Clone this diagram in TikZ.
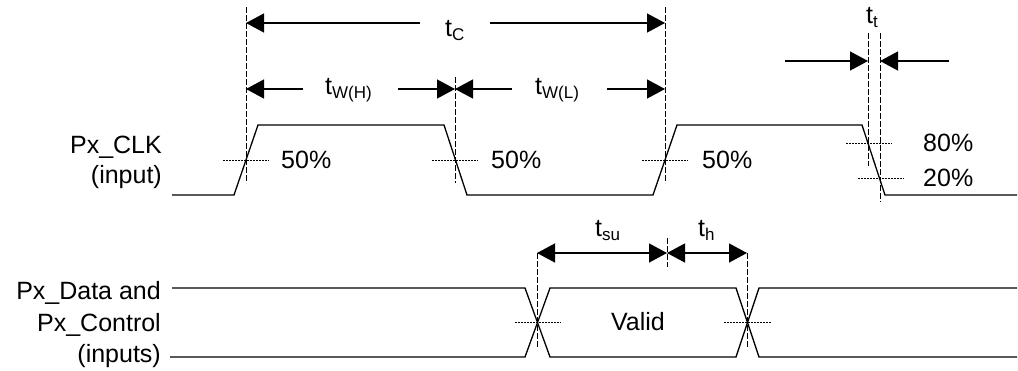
\documentclass[tikz,border=0pt]{standalone}
\usepackage{fontspec}
\setmainfont{Liberation Sans}
\usetikzlibrary{arrows.meta}
\newcommand\tsub[1]{t\raisebox{-4pt}{\fontsize{17}{17}\selectfont #1}}
\begin{document}
\begin{tikzpicture}[x=1pt,y=-1pt,
  wave/.style={line width=1.3pt, line join=miter},
  guide/.style={line width=0.9pt, dash pattern=on 6pt off 2pt},
  level/.style={line width=0.9pt, dash pattern=on 1.5pt off 1.5pt},
  dim/.style={line width=1.3pt, -{Triangle[length=18pt,width=19pt]}},
  dimboth/.style={line width=1.3pt, {Triangle[length=18pt,width=19pt]}-{Triangle[length=18pt,width=19pt]}},
  lbl/.style={font=\fontsize{25}{30}\selectfont, inner sep=0pt},
]
\useasboundingbox (0,0) rectangle (1018,370);

% ---------- clock waveform ----------
\coordinate (k0) at (172,195);
\coordinate (k1) at (234,195);
\coordinate (k2) at (258,125);
\coordinate (k3) at (444,125);
\coordinate (k4) at (467,195);
\coordinate (k5) at (653,195);
\coordinate (k6) at (677,125);
\coordinate (k7) at (862,125);
\coordinate (k8) at (885,195);
\coordinate (k9) at (1017,195);
\draw[wave] (k0) -- (k1) -- (k2) -- (k3) -- (k4) -- (k5) -- (k6) -- (k7) -- (k8) -- (k9);

% guide lines (clock)
\coordinate (g1t) at (246,7);   \coordinate (g1b) at (246,183);
\coordinate (g2t) at (455,77);  \coordinate (g2b) at (455,183);
\coordinate (g3t) at (665,7);   \coordinate (g3b) at (665,183);
\coordinate (g4t) at (868,33);  \coordinate (g4b) at (868,166);
\coordinate (g5t) at (880,33);  \coordinate (g5b) at (880,202);
\draw[guide] (g1t) -- (g1b);
\draw[guide] (g2t) -- (g2b);
\draw[guide] (g3t) -- (g3b);
\draw[guide] (g4t) -- (g4b);
\draw[guide] (g5t) -- (g5b);

% level lines (clock)
\coordinate (l1a) at (223,160); \coordinate (l1b) at (269,160);
\coordinate (l2a) at (432,160); \coordinate (l2b) at (478,160);
\coordinate (l3a) at (642,160); \coordinate (l3b) at (688,160);
\coordinate (l4a) at (846,143); \coordinate (l4b) at (892,143);
\coordinate (l5a) at (858,178); \coordinate (l5b) at (904,178);
\draw[level] (l1a) -- (l1b);
\draw[level] (l2a) -- (l2b);
\draw[level] (l3a) -- (l3b);
\draw[level] (l4a) -- (l4b);
\draw[level] (l5a) -- (l5b);

% percentage labels
\node[lbl, anchor=west] (p1) at (281,160) {50\%};
\node[lbl, anchor=west] (p2) at (491,160) {50\%};
\node[lbl, anchor=west] (p3) at (702,160) {50\%};
\node[lbl, anchor=west] (p4) at (923,143) {80\%};
\node[lbl, anchor=west] (p5) at (923,178) {20\%};

% t_C
\coordinate (tca) at (420,23); \coordinate (tcl) at (246,23);
\coordinate (tcb) at (490,23); \coordinate (tcr) at (665,23);
\draw[dim] (tca) -- (tcl);
\draw[dim] (tcb) -- (tcr);
\node[lbl, anchor=base west] (tc) at (445,36) {\tsub{C}};

% t_W(H)
\coordinate (wha) at (303,89); \coordinate (whl) at (246,89);
\coordinate (whb) at (398,89); \coordinate (whr) at (455,89);
\draw[dim] (wha) -- (whl);
\draw[dim] (whb) -- (whr);
\node[lbl, anchor=base west] (twh) at (325,94) {\tsub{W(H)}};

% t_W(L)
\coordinate (wla) at (512,89); \coordinate (wll) at (455,89);
\coordinate (wlb) at (607,89); \coordinate (wlr) at (665,89);
\draw[dim] (wla) -- (wll);
\draw[dim] (wlb) -- (wlr);
\node[lbl, anchor=base west] (twl) at (535,94) {\tsub{W(L)}};

% t_t
\coordinate (tta) at (785,61); \coordinate (ttl) at (868,61);
\coordinate (ttb) at (949,61); \coordinate (ttr) at (880,61);
\draw[dim] (tta) -- (ttl);
\draw[dim] (ttb) -- (ttr);
\node[lbl, anchor=base west] (tt) at (866,23) {\tsub{t}};

% signal names
\node[lbl, anchor=base east] (n1) at (162,153) {Px\_CLK};
\node[lbl, anchor=base east] (n2) at (162,183) {(input)};
\node[lbl, anchor=base east] (n3) at (161,299) {Px\_Data and};
\node[lbl, anchor=base east] (n4) at (161,331) {Px\_Control};
\node[lbl, anchor=base east] (n5) at (161,362) {(inputs)};

% ---------- data waveform ----------
\coordinate (a0) at (172,288);
\coordinate (a1) at (525,288);
\coordinate (a2) at (550,357);
\coordinate (a3) at (736,357);
\coordinate (a4) at (759,288);
\coordinate (a5) at (1017,288);
\coordinate (b0) at (170,357);
\coordinate (b1) at (525,357);
\coordinate (b2) at (550,288);
\coordinate (b3) at (736,288);
\coordinate (b4) at (759,357);
\coordinate (b5) at (1017,357);
\draw[wave] (a0) -- (a1) -- (a2) -- (a3) -- (a4) -- (a5);
\draw[wave] (b0) -- (b1) -- (b2) -- (b3) -- (b4) -- (b5);

% guides (data)
\coordinate (d1t) at (537,253); \coordinate (d1b) at (537,347);
\coordinate (d2t) at (747,253); \coordinate (d2b) at (747,347);
\coordinate (d3t) at (667,238); \coordinate (d3b) at (667,267);
\draw[guide] (d1t) -- (d1b);
\draw[guide] (d2t) -- (d2b);
\draw[guide] (d3t) -- (d3b);
\coordinate (m1a) at (515,322); \coordinate (m1b) at (561,322);
\coordinate (m2a) at (724,322); \coordinate (m2b) at (771,322);
\draw[level] (m1a) -- (m1b);
\draw[level] (m2a) -- (m2b);

\node[lbl, anchor=base] (valid) at (638,330) {Valid};

% t_su and t_h
\coordinate (su1) at (537,253); \coordinate (su2) at (667,253);
\coordinate (h2) at (747,253);
\draw[dimboth] (su1) -- (su2);
\draw[dimboth] (su2) -- (h2);
\node[lbl, anchor=base west] (tsu) at (595,236) {\tsub{su}};
\node[lbl, anchor=base west] (th) at (698,236) {\tsub{h}};
\end{tikzpicture}
\end{document}
